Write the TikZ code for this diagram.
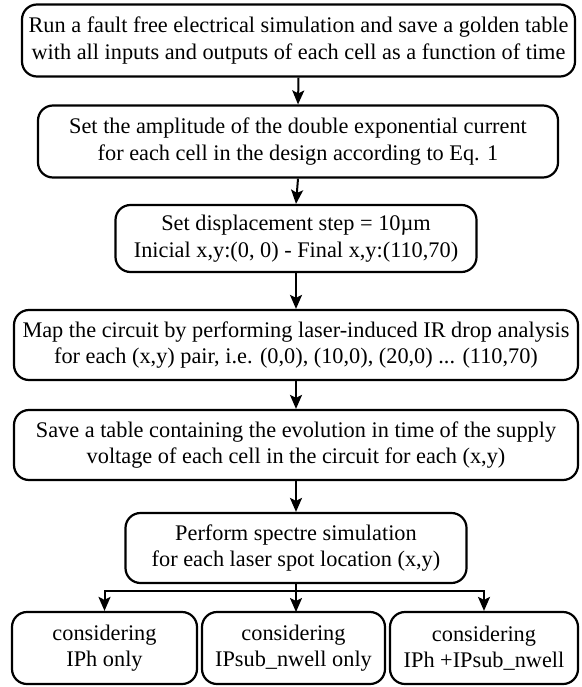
\documentclass[tikz,border=0pt]{standalone}
\usepackage{fontspec}
\setmainfont{Liberation Serif}
\usetikzlibrary{arrows.meta}
\begin{document}
\begin{tikzpicture}[x=1pt,y=-1pt,
  box/.style={draw, line width=2.2pt, rounded corners=15pt, align=center, inner sep=0pt,
    font=\fontsize{22.3}{26.5}\selectfont},
  arr/.style={line width=2pt, -{Stealth[length=14pt,width=12pt,inset=3pt]}}]
\useasboundingbox (0,0) rectangle (581,687);
\node[box, minimum width=553pt, minimum height=72pt] (b1) at (298.5,40.5) {Run a fault free electrical simulation and save a golden table\\with all inputs and outputs of each cell as a function of time};
\node[box, minimum width=520pt, minimum height=72pt] (b2) at (298,141.5) {Set the amplitude of the double exponential current\\for each cell in the design according to Eq. 1};
\node[box, minimum width=361pt, minimum height=67pt] (b3) at (296,238.5) {Set displacement step = 10µm\\Inicial x,y:(0, 0) - Final x,y:(110,70)};
\node[box, minimum width=564pt, minimum height=70pt] (b4) at (296,345) {Map the circuit by performing laser-induced IR drop analysis\\for each (x,y) pair, i.e. (0,0), (10,0), (20,0) ... (110,70)};
\node[box, minimum width=564pt, minimum height=70pt] (b5) at (296,445) {Save a table containing the evolution in time of the supply\\voltage of each cell in the circuit for each (x,y)};
\node[box, minimum width=341pt, minimum height=70pt] (b6) at (296,548) {Perform spectre simulation\\for each laser spot location (x,y)};
\node[box, minimum width=185pt, minimum height=72pt] (b7) at (104.5,648) {considering\\IPh only};
\node[box, minimum width=183pt, minimum height=72pt] (b8) at (293.5,648) {considering\\IPsub\_nwell only};
\node[box, minimum width=188pt, minimum height=72pt] (b9) at (484,648) {considering\\IPh +IPsub\_nwell};
\draw[arr] (b1.south) -- (b2.north);
\draw[arr] (b2.south) -- (b3.north);
\draw[arr] (b3.south) -- (b4.north);
\draw[arr] (b4.south) -- (b5.north);
\draw[arr] (b5.south) -- (b6.north);
\coordinate (sp) at (296,591);
\coordinate (m8) at (296,612);
\draw[line width=2pt] (b6.south) -- (sp);
\draw[arr] (sp) -| (b7.north);
\draw[arr] (sp) -- (m8);
\draw[arr] (sp) -| (b9.north);
\end{tikzpicture}
\end{document}
